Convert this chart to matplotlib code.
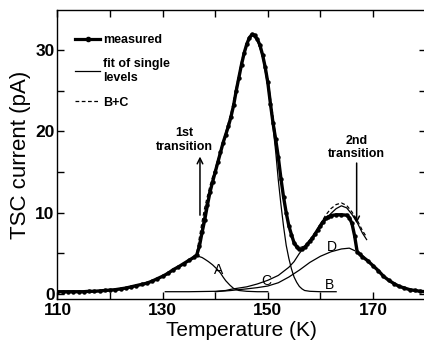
import matplotlib
matplotlib.use('Agg')
import matplotlib.pyplot as plt
from matplotlib.lines import Line2D

plt.rcParams['font.family'] = ['Liberation Sans', 'DejaVu Sans']

# measured TSC current
t_meas = [110, 111, 112, 113, 114, 115, 116, 117, 118, 119, 120, 121, 122, 123, 124, 125,
          126, 127, 128, 129, 130, 131, 132, 133, 134, 135, 136, 136.5, 137, 137.5, 138,
          138.5, 139, 139.5, 140, 140.5, 141, 141.5, 142, 142.5, 143, 143.5, 144, 144.5,
          145, 145.5, 146, 146.5, 147, 147.5, 148, 148.5, 149, 149.5, 150, 150.5, 151,
          151.5, 152, 152.5, 153, 153.5, 154, 154.5, 155, 155.5, 156, 156.5, 157, 157.5,
          158, 158.5, 159, 159.5, 160, 160.5, 161, 161.5, 162, 163, 164, 165, 165.5, 166,
          166.5, 167, 167.5, 168, 169, 170, 171, 172, 173, 174, 175, 176, 177, 178, 179, 180]
i_meas = [0.3, 0.3, 0.3, 0.3, 0.3, 0.3, 0.35, 0.35, 0.4, 0.45, 0.5, 0.55, 0.65, 0.75, 0.9, 1.05,
          1.2, 1.35, 1.6, 1.9, 2.2, 2.55, 3.0, 3.35, 3.75, 4.15, 4.55, 4.85, 5.9, 7.6, 9.1,
          10.9, 12.5, 13.8, 15.0, 16.2, 17.4, 18.6, 19.6, 20.6, 21.8, 23.2, 25.0, 26.6,
          28.2, 29.6, 30.7, 31.5, 31.9, 31.8, 31.3, 30.6, 29.4, 27.9, 26.0, 23.4, 21.0,
          19.0, 16.8, 14.2, 11.9, 10.0, 8.4, 7.3, 6.3, 5.8, 5.5, 5.5, 5.75, 6.1,
          6.5, 6.9, 7.4, 7.9, 8.4, 8.9, 9.3, 9.5, 9.65, 9.75, 9.75, 9.7, 9.4, 8.7,
          7.2, 5.2, 4.9, 4.6, 4.1, 3.5, 2.9, 2.2, 1.7, 1.3, 0.95, 0.75, 0.55, 0.45, 0.35, 0.3]

# single level fits
t_a = [136.5, 136.8, 137.5, 138, 138.7, 139.5, 140.3, 141, 141.5, 142, 142.8, 143.5, 144.5, 146, 148, 150]
i_a = [4.8, 4.65, 4.5, 4.3, 4.0, 3.6, 3.1, 2.6, 2.1, 1.65, 1.1, 0.7, 0.45, 0.35, 0.3, 0.3]

t_b = [136.5, 137, 137.5, 138, 138.5, 139, 139.5, 140, 141, 142, 143, 144, 145, 146, 147,
       148, 149, 150, 151, 151.5, 152, 152.5, 153, 153.5, 154, 154.5, 155, 155.5, 156,
       156.5, 157, 158, 160, 163]
i_b = [4.85, 6.4, 8.2, 9.9, 11.4, 12.8, 14.0, 15.1, 17.4, 19.6, 21.8, 25.0, 28.2, 30.7, 31.8,
       31.2, 29.2, 25.6, 20.5, 17.5, 14.0, 11.0, 8.3, 6.0, 4.4, 3.1, 2.1, 1.45, 0.95,
       0.65, 0.45, 0.35, 0.3, 0.3]

t_c = [130.5, 135, 140, 142, 143, 146, 148, 150, 152, 154, 155, 156, 157, 158, 159, 160,
       161, 162, 163, 164, 165, 166, 167, 168, 168.8]
i_c = [0.3, 0.3, 0.35, 0.45, 0.6, 0.9, 1.25, 1.7, 2.3, 3.3, 4.0, 5.0, 5.8, 6.6, 7.4, 8.2,
       9.1, 9.9, 10.5, 10.85, 10.6, 9.8, 8.8, 7.5, 6.7]

t_d = [140, 143, 146, 148, 150, 152, 154, 156, 158, 160, 162, 164, 165.5, 166.5]
i_d = [0.3, 0.45, 0.65, 0.8, 1.0, 1.4, 2.1, 2.95, 3.9, 4.65, 5.2, 5.55, 5.65, 5.35]

# B+C
t_bc = [136.5, 137, 137.5, 138, 138.5, 139, 139.5, 140, 141, 142, 143, 144, 145, 146, 147,
        148, 149, 150, 151, 152, 153, 154, 155, 156, 157, 158, 159, 160, 161, 162, 163,
        164, 165, 166, 167, 168, 168.8]
i_bc = [5.1, 7.0, 8.9, 10.6, 12.0, 13.3, 14.4, 15.4, 17.6, 19.9, 22.2, 25.4, 28.6, 31.0, 32.0,
        31.4, 29.6, 26.4, 21.8, 16.8, 11.8, 8.3, 6.4, 5.7, 5.9, 6.6, 7.5, 8.6, 9.7, 10.5, 11.0,
        11.2, 10.9, 10.1, 9.1, 7.8, 7.0]

x_labeled = [110, 130, 150, 170]
x_minor = [120, 140, 160, 180]
y_labeled = [0, 10, 20, 30]
y_minor = [5, 15, 25]

fig = plt.figure(figsize=(4.24, 3.56), dpi=100)
ax = fig.add_axes([0.1356, 0.160, 0.868, 0.812])

ax.plot(t_meas, i_meas, '-o', color='k', lw=2.4, ms=2.2, zorder=3)
for t, i in [(t_a, i_a), (t_b, i_b), (t_c, i_c), (t_d, i_d)]:
    ax.plot(t, i, color='k', lw=0.9, zorder=2)
ax.plot(t_bc, i_bc, '--', color='k', lw=0.9, dashes=(3, 2), zorder=4)

ax.set_xlim(110, 180)
ax.set_ylim(-0.6, 34.9)
ax.set_xticks(x_labeled)
ax.set_xticks(x_minor, minor=True)
ax.set_yticks(y_labeled)
ax.set_yticks(y_minor, minor=True)
ax.tick_params(which='both', direction='in', top=True, right=True, length=5, width=1)
ax.tick_params(labelsize=12.5)
ax.tick_params(axis='x', pad=3)
ax.tick_params(axis='y', pad=2)
for lab in ax.get_xticklabels() + ax.get_yticklabels():
    lab.set_fontweight('bold')
for s in ax.spines.values():
    s.set_linewidth(1.0)

ax.set_xlabel('Temperature (K)', fontsize=15, labelpad=2)
ax.set_ylabel('TSC current (pA)', fontsize=16, labelpad=3)

# level labels
ax.text(140.6, 2.95, 'A', fontsize=10, ha='center', va='center')
ax.text(161.7, 1.1, 'B', fontsize=10, ha='center', va='center')
ax.text(149.8, 1.6, 'C', fontsize=10, ha='center', va='center')
ax.text(162.1, 5.8, 'D', fontsize=10, ha='center', va='center')

# transitions
ax.text(134.2, 18.9, '1st\ntransition', fontsize=9, fontweight='bold', ha='center', va='center')
ax.annotate('', xy=(137.1, 16.9), xytext=(137.1, 9.7),
            arrowprops=dict(arrowstyle='->', lw=1.1, color='k', shrinkA=0, shrinkB=0))
ax.text(166.9, 18.0, '2nd\ntransition', fontsize=9, fontweight='bold', ha='center', va='center')
ax.annotate('', xy=(166.9, 8.7), xytext=(166.9, 16.1),
            arrowprops=dict(arrowstyle='->', lw=1.1, color='k', shrinkA=0, shrinkB=0))

handles = [Line2D([], [], color='k', lw=2.3, marker='o', ms=3),
           Line2D([], [], color='k', lw=0.9),
           Line2D([], [], color='k', lw=0.9, ls='--', dashes=(3, 2))]
labels = ['measured', 'fit of single\nlevels', 'B+C']
ax.legend(handles, labels, loc='upper left', bbox_to_anchor=(0.048, 0.917),
          frameon=False, borderpad=0, borderaxespad=0, handlelength=2.0,
          handletextpad=0.25, labelspacing=1.0,
          prop={'family': 'Liberation Sans', 'size': 9, 'weight': 'bold'})

fig.savefig('out.png', dpi=100)
